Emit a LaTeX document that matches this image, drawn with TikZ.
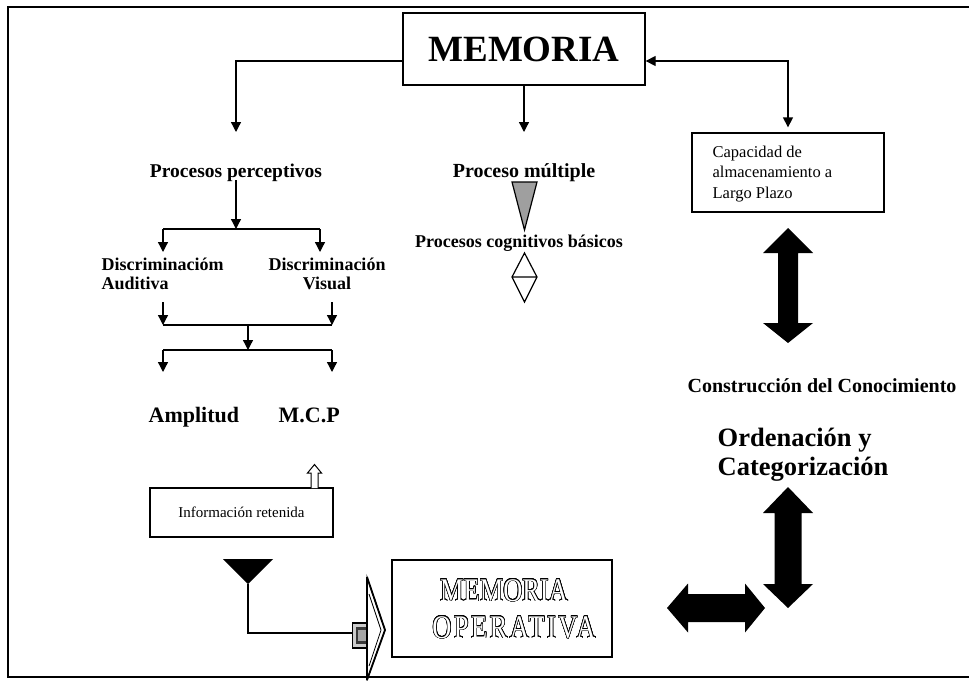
\documentclass[tikz,border=0pt]{standalone}
\usepackage{fontspec}
\setmainfont{Liberation Serif}
\newfontfamily\opfont[FakeStretch=0.8]{Liberation Serif}
\newfontfamily\opwide[FakeStretch=0.8, LetterSpace=7.5]{Liberation Serif}
\usepackage{contour}
\contourlength{0.55pt}
\contournumber{24}
\usetikzlibrary{arrows.meta}

\begin{document}
\begin{tikzpicture}[x=1pt,y=-1pt,
  line width=1.3pt,
  tip/.style={-{Triangle[length=10pt,width=10pt]}},
  twotip/.style={{Triangle[length=10pt,width=10pt]}-{Triangle[length=10pt,width=10pt]}},
  boxed/.style={draw, line width=1.3pt, inner sep=0pt},
  bold/.style={font=\bfseries\fontsize{#1}{#1}\selectfont, inner sep=0pt},
  plain/.style={font=\fontsize{#1}{#1}\selectfont, inner sep=0pt}
]
\useasboundingbox (0,0) rectangle (969,680);

% outer frame (open on the right)
\draw[line width=1.5pt] (969,7) -- (8,7) -- (8,677) -- (969,677);

% main title box
\node[boxed, minimum width=242pt, minimum height=72pt] (mem) at (524,49)
  {\bfseries\fontsize{37}{40}\selectfont MEMORIA};

% long-term storage box
\node[boxed, minimum width=192pt, minimum height=79pt] (cap) at (788,172.5) {};
\node[anchor=north west, align=left, inner sep=0pt,
      font=\fontsize{16.5}{20.5}\selectfont] (captxt) at (712,145)
  {Capacidad de\\almacenamiento a\\Largo Plazo};

% branch labels
\node[bold=19.5, anchor=base] (pp) at (236,177) {Procesos perceptivos};
\node[bold=20, anchor=base] (pm) at (524,177) {Proceso múltiple};
\node[bold=18, anchor=base] (pc) at (519,247) {Procesos cognitivos básicos};

% connectors from the title box
\coordinate (a1) at (236,132);
\coordinate (a2) at (524,132);
\draw[tip] ([yshift=-12pt]mem.west) -| (a1);
\draw[tip] (mem.south) -- (a2);
\draw[twotip] ([yshift=-12pt]mem.east) -| ([yshift=5pt]cap.north);

% perceptual discrimination tree
\node[anchor=north west, align=left, inner sep=0pt,
      font=\bfseries\fontsize{18}{19}\selectfont] (da) at (101,257)
  {Discriminacióm\\Auditiva};
\node[anchor=north, align=center, inner sep=0pt,
      font=\bfseries\fontsize{18}{19}\selectfont] (dv) at (327,257)
  {Discriminación\\Visual};

\coordinate (j1) at (236,229);
\coordinate (j1l) at (163,229);
\coordinate (j1r) at (320,229);
\draw[tip] (pp.south |- 0,180) -- (j1);
\draw (j1l) -- (j1r);
\draw[tip] (j1l) -- (163,252);
\draw[tip] (j1r) -- (320,252);

\coordinate (j2l) at (163,325);
\coordinate (j2r) at (332,325);
\coordinate (j2) at (248,325);
\draw[tip] (163,302) -- (j2l);
\draw[tip] (332,302) -- (j2r);
\draw (j2l) -- (j2r);
\coordinate (j3) at (248,350);
\coordinate (j3l) at (163,350);
\coordinate (j3r) at (332,350);
\draw[tip] (j2) -- (j3);
\draw (j3l) -- (j3r);
\draw[tip] (j3l) -- (163,372);
\draw[tip] (j3r) -- (332,372);

% short-term span
\node[bold=22, anchor=base west] (amp) at (148,422) {Amplitud};
\node[bold=22, anchor=base west] (mcp) at (278,422) {M.C.P};

% retained information box with hollow arrow
\node[boxed, minimum width=183pt, minimum height=49pt] (info) at (241.5,512.5) {};
\node[plain=15] (infotxt) at (241.5,512) {Información retenida};
\draw[line width=1pt, fill=white] (311,488) -- (311,473) -- (307.5,473) -- (314.5,464.5)
  -- (321.5,473) -- (318,473) -- (318,488);

% gray funnel and diamond under the multiple process label
\draw[line width=1.2pt, fill=gray!75] (512,182) -- (537,182) -- (524.5,230) -- cycle;
\draw[line width=1.2pt] (524.5,253) -- (537,277) -- (524.5,302) -- (512,277) -- cycle
  (512,277) -- (537,277);

% black funnel feeding the working memory
\fill (223,559) -- (273,559) -- (248,584) -- cycle;
\coordinate (f1) at (248,584);
\draw (f1) |- (352,633);
\draw[line width=1.6pt, fill=gray!40] (352.5,623) rectangle (371,648);
\fill[gray!45!black] (356,627) rectangle (367.5,644);
\fill[gray!70] (358,630) rectangle (365.5,641);

% entry arrow of the working memory box
\draw[line width=1pt, fill=white] (367,577) -- (385,630) -- (367,680) -- cycle;
\draw[line width=1.8pt] (367,577) -- (385,630) -- (367,680);
\draw[line width=0.8pt] (369,594) -- (381,630) -- (369,666);
\draw[line width=1.8pt] (367,577) -- (367,680);

% working memory box with outlined lettering
\node[boxed, minimum width=220pt, minimum height=97pt] (op) at (502,608.5) {};
\node[inner sep=0pt, anchor=base, font=\opfont\fontsize{33}{37}\selectfont] (op1) at (504,601)
  {{\color{white}\contour{black}{MEMORIA}}};
\node[inner sep=0pt, anchor=base, font=\opwide\fontsize{33}{37}\selectfont] (op2) at (514,638)
  {{\color{white}\contour{black}{OPERATIVA}}};

% knowledge construction block arrow
\fill (788,228) -- (813,253) -- (798,253) -- (798,323) -- (813,323) -- (788,343)
  -- (763,323) -- (778,323) -- (778,253) -- (763,253) -- cycle;
\node[bold=20, anchor=base] (con) at (822,392) {Construcción del Conocimiento};

% ordering and categorisation
\node[anchor=north west, align=left, inner sep=0pt,
      font=\bfseries\fontsize{26.5}{29}\selectfont] (ord) at (717,427)
  {Ordenación y\\Categorización};

\fill (788,487) -- (813,513) -- (801.5,513) -- (801.5,584) -- (813,584) -- (788,608)
  -- (763,584) -- (774.5,584) -- (774.5,513) -- (763,513) -- cycle;
\fill (667,608) -- (688,583.5) -- (688,594) -- (745,594) -- (745,583.5) -- (765,608)
  -- (745,632.5) -- (745,622) -- (688,622) -- (688,632.5) -- cycle;

\end{tikzpicture}
\end{document}
